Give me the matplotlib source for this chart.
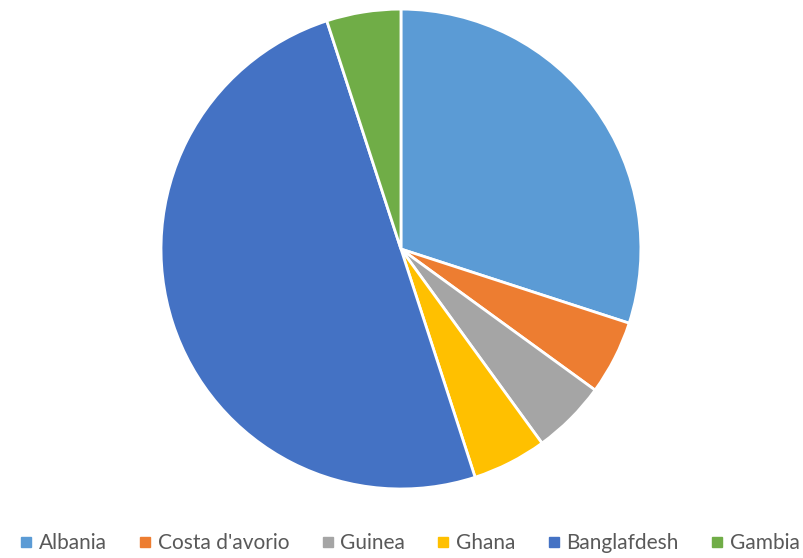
import matplotlib
matplotlib.use("Agg")
import matplotlib.pyplot as plt
from matplotlib.lines import Line2D

# share of each country in the total
countries = ["Albania", "Costa d'avorio", "Guinea", "Ghana", "Banglafdesh", "Gambia"]
shares = [30, 5, 5, 5, 50, 5]
colors = ["#5B9BD5", "#ED7D31", "#A5A5A5", "#FFC000", "#4472C4", "#70AD47"]

plt.rcParams['font.family'] = ['Lato', 'DejaVu Sans']

fig = plt.figure(figsize=(8.04, 5.58), dpi=100)
ax = fig.add_axes([0.2002, 0.1237, 0.597, 0.860])

ax.pie(shares, colors=colors, startangle=90, counterclock=False,
       wedgeprops=dict(edgecolor="white", linewidth=2))
ax.set_xlim(-1, 1)
ax.set_ylim(-1, 1)
ax.set_aspect("equal")

# legend along the bottom with small square keys
handles = [Line2D([], [], marker="s", linestyle="", markersize=7,
                  markerfacecolor=c, markeredgecolor=c) for c in colors]
fig.legend(handles, countries, loc="lower center", ncol=6, frameon=False,
           bbox_to_anchor=(0.507, -0.025), fontsize=15, labelcolor="#595959",
           handletextpad=0.1, columnspacing=1.35, handlelength=1.0)

fig.savefig("out.png", dpi=100)
